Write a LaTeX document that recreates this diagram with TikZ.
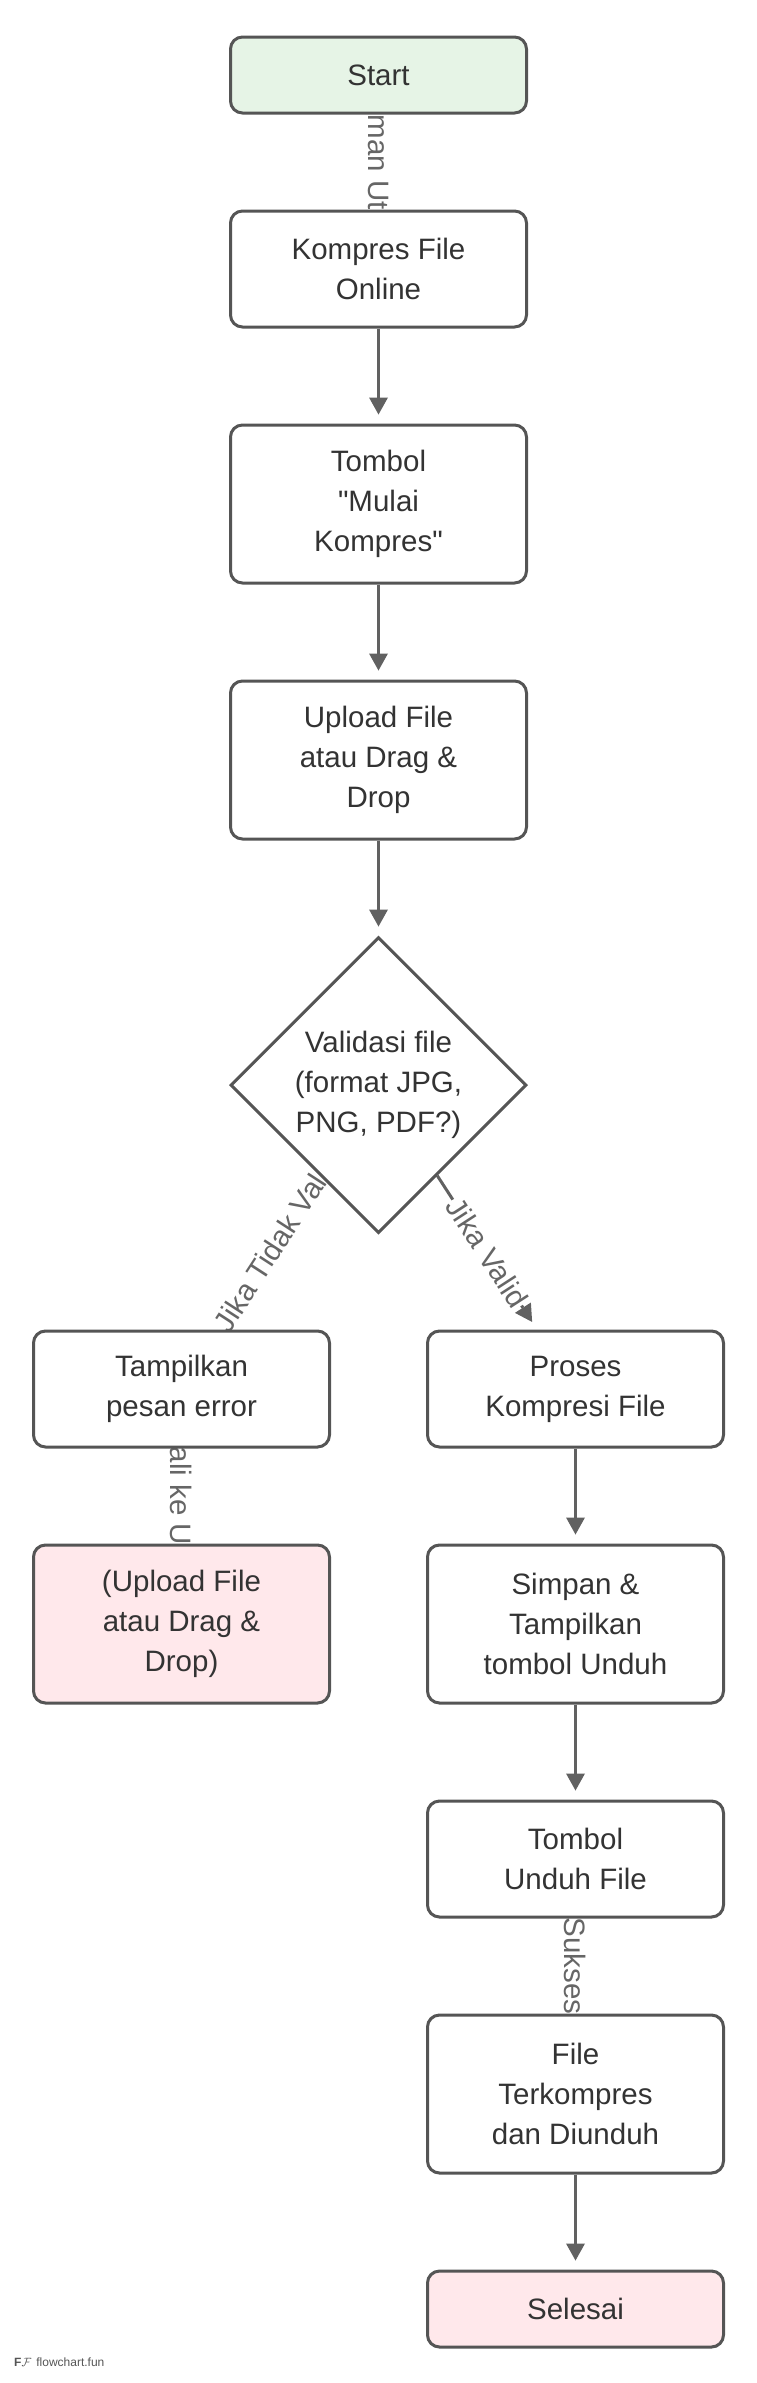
\documentclass[tikz,border=0pt]{standalone}
\usepackage{fontspec}
\setmainfont{Liberation Sans}[Ligatures=TeXOff]
\usetikzlibrary{arrows.meta, positioning, shapes.geometric}

\definecolor{boxline}{HTML}{555555}
\definecolor{edgegray}{HTML}{616161}
\definecolor{txt}{HTML}{333333}
\definecolor{lblgray}{HTML}{666666}
\definecolor{startgreen}{HTML}{E6F4E6}
\definecolor{endpink}{HTML}{FFE8EB}

\pgfdeclarelayer{edges}
\pgfsetlayers{edges,main}

\begin{document}
\begin{tikzpicture} [node distance = 95pt, x=1pt, y=1pt,
        box/.style = {draw=boxline, line width=3pt, rounded corners=12pt, fill=white, text=txt,
            minimum width=296pt, minimum height=76pt, align=center,
            font=\fontsize{29.5pt}{40pt}\selectfont},
        two/.style = {minimum height=116pt},
        three/.style = {minimum height=158pt},
        check/.style = {diamond, aspect=1, draw=boxline, line width=3pt, fill=white, text=txt,
            minimum width=296pt, minimum height=296pt, inner sep=0pt, align=center,
            font=\fontsize{29.5pt}{40pt}\selectfont},
        flow/.style = {edgegray, line width=3pt,
            -{Triangle[length=17pt, width=19pt, line width=0pt]}, shorten >=9pt},
        lbl/.style = {fill=white, text=lblgray, inner sep=1pt,
            font=\fontsize{29.5pt}{34pt}\selectfont}]

        \useasboundingbox (0,0) rectangle (757,-2383);

        \node (start) [box, fill=startgreen] at (378.5,-75) {Start};
        \node (kompres) [box, two, below = of start] {Kompres File\\Online};
        \node (tombol) [box, three, below = of kompres] {Tombol\\"Mulai\\Kompres"};
        \node (upload) [box, three, below = of tombol] {Upload File\\atau Drag \&\\Drop};
        \node (dec) [check, below = of upload] {Validasi file\\(format JPG,\\PNG, PDF?)};

        \node (error) [box, two, below = of dec, xshift=-197pt] {Tampilkan\\pesan error};
        \node (retry) [box, three, fill=endpink, below = of error] {(Upload File\\atau Drag \&\\Drop)};

        \node (proses) [box, two, below = of dec, xshift=197pt] {Proses\\Kompresi File};
        \node (simpan) [box, three, below = of proses] {Simpan \&\\Tampilkan\\tombol Unduh};
        \node (unduh) [box, two, below = of simpan] {Tombol\\Unduh File};
        \node (hasil) [box, three, below = of unduh] {File\\Terkompres\\dan Diunduh};
        \node (selesai) [box, fill=endpink, below = of hasil] {Selesai};

        \node (logo) [anchor=west, text=boxline, inner sep=0pt, font=\fontsize{12pt}{14pt}\selectfont]
            at (14,-2362) {\textbf{F}$\mathcal{F}$\hspace{5pt}flowchart.fun};

        \begin{pgfonlayer}{edges}
        \path[flow](start) edge node[lbl, rotate=-90, minimum width=96pt] {man Ut}(kompres);
        \path[flow](kompres) edge (tombol);
        \path[flow](tombol) edge (upload);
        \path[flow](upload) edge (dec);
        \path[flow](dec) edge node[lbl, sloped, minimum width=186pt] {Jika Tidak Val}(error);
        \path[flow](dec) edge node[lbl, sloped] {Jika Valid}(proses);
        \path[flow](error) edge node[lbl, rotate=-90, minimum width=96pt] {ali ke U}(retry);
        \path[flow](proses) edge (simpan);
        \path[flow](simpan) edge (unduh);
        \path[flow](unduh) edge node[lbl, rotate=-90, minimum width=96pt] {Sukses}(hasil);
        \path[flow](hasil) edge (selesai);
        \end{pgfonlayer}
    \end{tikzpicture}
\end{document}
